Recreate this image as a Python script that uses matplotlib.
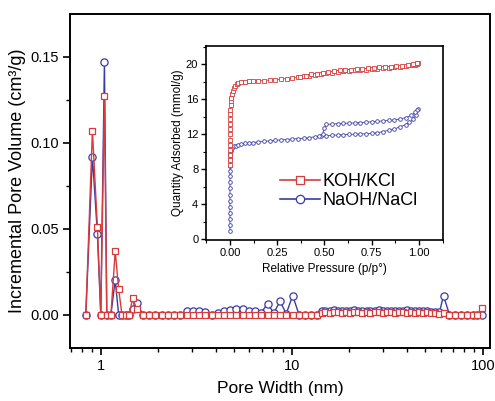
import matplotlib
matplotlib.use('Agg')
import matplotlib.pyplot as plt
from matplotlib.lines import Line2D
from matplotlib.ticker import FixedLocator, NullFormatter, MultipleLocator, FormatStrFormatter

plt.rcParams['font.family'] = ['Liberation Sans', 'DejaVu Sans']

RED = '#d93a3a'
BLUE = '#3b3ba6'

# ---------------- pore size distribution (main) ----------------
pore_width = [0.835, 0.904, 0.960, 1.000, 1.045, 1.075, 1.13, 1.19, 1.24, 1.29,
              1.35, 1.41, 1.47, 1.54, 1.66, 1.79, 1.93, 2.08, 2.24, 2.42,
              2.61, 2.81, 3.03, 3.27, 3.52, 3.80, 4.09, 4.41, 4.76, 5.13,
              5.53, 5.96, 6.42, 6.92, 7.46, 8.04, 8.67, 9.35, 10.1, 10.9,
              11.7, 12.6, 13.6, 14.3, 15.0, 15.8, 16.6, 17.4, 18.3, 19.2,
              20.2, 21.2, 22.3, 23.4, 24.6, 25.8, 27.1, 28.5, 29.9, 31.4,
              33.0, 34.7, 36.4, 38.2, 40.1, 42.1, 44.2, 46.4, 48.7, 51.1,
              53.7, 56.4, 59.2, 62.2, 66.8, 71.7, 77.0, 82.7, 88.8, 93.5,
              99.5]

koh_psd = [0, 0.107, 0.051, 0, 0.127, 0, 0, 0.037, 0.015, 0,
           0, 0, 0.0097, 0.003, 0, 0, 0, 0, 0, 0,
           0, 0, 0, 0, 0, 0, 0, 0, 0, 0,
           0, 0, 0, 0, 0, 0, 0, 0, 0, 0,
           0, 0, 0, 0.0010, 0.0012, 0.0011, 0.0013, 0.0012, 0.0010, 0.0013,
           0.0011, 0.0012, 0.0014, 0.0011, 0.0012, 0.0010, 0.0013, 0.0012, 0.0011, 0.0013,
           0.0012, 0.0010, 0.0012, 0.0013, 0.0011, 0.0012, 0.0010, 0.0012, 0.0011, 0.0013,
           0.0010, 0.0008, 0.0005, 0.0010, 0, 0, 0, 0, 0, 0,
           0.004]

naoh_psd = [0, 0.092, 0.047, 0, 0.147, 0, 0, 0.020, 0, 0,
            0, 0, 0.003, 0.0068, 0, 0, 0, 0, 0, 0,
            0, 0.0018, 0.0022, 0.0022, 0.0012, 0, 0.0008, 0.0018, 0.0026, 0.0030,
            0.0030, 0.0022, 0.0020, 0.0010, 0.0064, 0.0008, 0.0077, 0.0005, 0.0110, 0,
            0, 0, 0, 0.0018, 0.0022, 0.0020, 0.0024, 0.0019, 0.0023, 0.0021,
            0.0018, 0.0024, 0.0020, 0.0022, 0.0019, 0.0023, 0.0021, 0.0024, 0.0018, 0.0022,
            0.0020, 0.0023, 0.0019, 0.0022, 0.0024, 0.0020, 0.0021, 0.0019, 0.0023, 0.0020,
            0.0017, 0.0015, 0.0012, 0.0110, 0, 0, 0, 0, 0, 0,
            0]

# ---------------- isotherms (inset) ----------------
koh_p_ads = [0.00001, 0.00002, 0.00004, 0.00007, 0.0001, 0.0002, 0.0004, 0.0007, 0.001, 0.0015,
             0.002, 0.003, 0.004, 0.006, 0.008, 0.011, 0.015, 0.02, 0.027, 0.035,
             0.045, 0.06, 0.08, 0.10, 0.12, 0.15, 0.18, 0.21, 0.24, 0.27,
             0.30, 0.33, 0.36, 0.39, 0.42, 0.45, 0.48, 0.51, 0.54, 0.57,
             0.60, 0.63, 0.66, 0.69, 0.72, 0.75, 0.78, 0.81, 0.84, 0.87,
             0.90, 0.93, 0.96, 0.98, 0.99, 0.995]
koh_q_ads = [8.5, 9.0, 9.6, 10.2, 10.8, 11.4, 12.0, 12.6, 13.2, 13.8,
             14.3, 14.8, 15.3, 15.8, 16.2, 16.6, 17.0, 17.3, 17.55, 17.7,
             17.85, 17.95, 18.0, 18.05, 18.1, 18.12, 18.15, 18.2, 18.25, 18.3,
             18.38, 18.45, 18.55, 18.62, 18.7, 18.8, 18.9, 18.98, 19.05, 19.12,
             19.2, 19.25, 19.3, 19.35, 19.4, 19.45, 19.5, 19.55, 19.6, 19.65,
             19.7, 19.78, 19.88, 19.98, 20.08, 20.2]
koh_p_des = [0.99, 0.97, 0.94, 0.91, 0.88, 0.85, 0.82, 0.79, 0.76, 0.73,
             0.70, 0.67, 0.64, 0.61, 0.58, 0.55, 0.52, 0.49, 0.46, 0.43,
             0.40, 0.37]
koh_q_des = [20.15, 20.05, 19.95, 19.85, 19.8, 19.75, 19.7, 19.65, 19.6, 19.55,
             19.5, 19.45, 19.4, 19.35, 19.3, 19.22, 19.15, 19.05, 18.95, 18.85,
             18.72, 18.6]

naoh_p_ads = [0.000005, 0.00001, 0.00002, 0.00003, 0.00005, 0.00008, 0.0001, 0.00015, 0.0002, 0.0003,
              0.0005, 0.0008, 0.001, 0.0015, 0.002, 0.003, 0.005, 0.008, 0.012, 0.02,
              0.03, 0.045, 0.06, 0.08, 0.10, 0.12, 0.15, 0.18, 0.21, 0.24,
              0.27, 0.30, 0.33, 0.36, 0.39, 0.42, 0.45, 0.48, 0.51, 0.54,
              0.57, 0.60, 0.63, 0.66, 0.69, 0.72, 0.75, 0.78, 0.81, 0.84,
              0.87, 0.90, 0.93, 0.95, 0.97, 0.985, 0.995]
naoh_q_ads = [0.95, 1.6, 2.3, 3.0, 3.7, 4.4, 5.1, 5.8, 6.5, 7.2,
              7.8, 8.4, 8.9, 9.3, 9.6, 9.9, 10.1, 10.3, 10.45, 10.6,
              10.7, 10.8, 10.85, 10.95, 11.0, 11.05, 11.12, 11.18, 11.24, 11.3,
              11.35, 11.4, 11.45, 11.5, 11.55, 11.6, 11.72, 11.78, 11.84, 11.88,
              11.92, 11.95, 11.98, 12.0, 12.03, 12.06, 12.1, 12.18, 12.3, 12.45,
              12.6, 12.85, 13.1, 13.35, 13.7, 14.2, 14.9]
naoh_p_des = [0.99, 0.98, 0.96, 0.93, 0.90, 0.87, 0.84, 0.81, 0.78, 0.75,
              0.72, 0.69, 0.66, 0.63, 0.60, 0.57, 0.54, 0.51, 0.50, 0.49,
              0.47]
naoh_q_des = [14.8, 14.5, 14.15, 13.9, 13.75, 13.65, 13.58, 13.52, 13.47, 13.42,
              13.38, 13.34, 13.3, 13.27, 13.24, 13.2, 13.17, 13.12, 12.7, 12.0,
              11.75]

labels = ['KOH/KCl', 'NaOH/NaCl']

fig = plt.figure(figsize=(4.95, 4.01), dpi=100)
ax = fig.add_axes([0.1414, 0.1322, 0.8486, 0.8328])

ax.plot(pore_width, naoh_psd, color=BLUE, lw=1.0, marker='o', ms=5.2,
        mfc='white', mec=BLUE, mew=0.9, zorder=2)
ax.plot(pore_width, koh_psd, color=RED, lw=1.0, marker='s', ms=5.0,
        mfc='white', mec=RED, mew=0.9, zorder=3)

ax.set_xscale('log')
ax.set_xlim(0.69, 109)
ax.set_ylim(-0.0195, 0.175)
ax.xaxis.set_major_locator(FixedLocator([1, 10, 100]))
ax.xaxis.set_major_formatter(FormatStrFormatter('%g'))
ax.xaxis.set_minor_locator(FixedLocator([0.7, 0.8, 0.9, 2, 3, 4, 5, 6, 7, 8, 9,
                                         20, 30, 40, 50, 60, 70, 80, 90]))
ax.xaxis.set_minor_formatter(NullFormatter())
ax.yaxis.set_major_locator(FixedLocator([0.0, 0.05, 0.10, 0.15]))
ax.yaxis.set_major_formatter(FormatStrFormatter('%.2f'))
ax.yaxis.set_minor_locator(FixedLocator([0.025, 0.075, 0.125]))
ax.tick_params(which='major', direction='out', length=5, width=1.2, labelsize=10.5, pad=3)
ax.tick_params(which='minor', direction='out', length=3, width=1.0)
for s in ax.spines.values():
    s.set_linewidth(1.4)
ax.set_xlabel('Pore Width (nm)', fontsize=12.5, labelpad=6)
ax.set_ylabel('Incremental Pore Volume (cm³/g)', fontsize=13, labelpad=3)

# ---------------- inset ----------------
ins = fig.add_axes([0.416, 0.4015, 0.478, 0.4838])
ins.plot(naoh_p_ads + naoh_p_des, naoh_q_ads + naoh_q_des, color=BLUE, lw=0.6,
         marker='o', ms=2.6, mfc='white', mec=BLUE, mew=0.6)
ins.plot(koh_p_ads + koh_p_des, koh_q_ads + koh_q_des, color=RED, lw=0.6,
         marker='s', ms=2.4, mfc='white', mec=RED, mew=0.6)
ins.set_xlim(-0.127, 1.125)
ins.set_ylim(-0.1, 22.1)
ins.xaxis.set_major_locator(MultipleLocator(0.25))
ins.xaxis.set_minor_locator(MultipleLocator(0.125))
ins.xaxis.set_major_formatter(FormatStrFormatter('%.2f'))
ins.yaxis.set_major_locator(MultipleLocator(4))
ins.yaxis.set_minor_locator(MultipleLocator(2))
ins.tick_params(which='major', direction='out', length=3.5, width=1.0, labelsize=8, pad=2)
ins.tick_params(which='minor', direction='out', length=2, width=0.8)
for s in ins.spines.values():
    s.set_linewidth(1.2)
ins.set_xlabel('Relative Pressure (p/p°)', fontsize=8.5, labelpad=4)
ins.set_ylabel('Quantity Adsorbed (mmol/g)', fontsize=8.5, labelpad=1)

handles = [Line2D([], [], color=RED, lw=1.2, marker='s', ms=5.5, mfc='white', mec=RED, mew=0.9),
           Line2D([], [], color=BLUE, lw=1.2, marker='o', ms=6, mfc='white', mec=BLUE, mew=0.9)]
ins.legend(handles, labels, loc='upper left', bbox_to_anchor=(0.313, 0.345), frameon=False,
           fontsize=13, handlelength=2.2, handletextpad=0.15, labelspacing=0.1,
           borderpad=0, borderaxespad=0)

fig.savefig('out.png', dpi=100)
